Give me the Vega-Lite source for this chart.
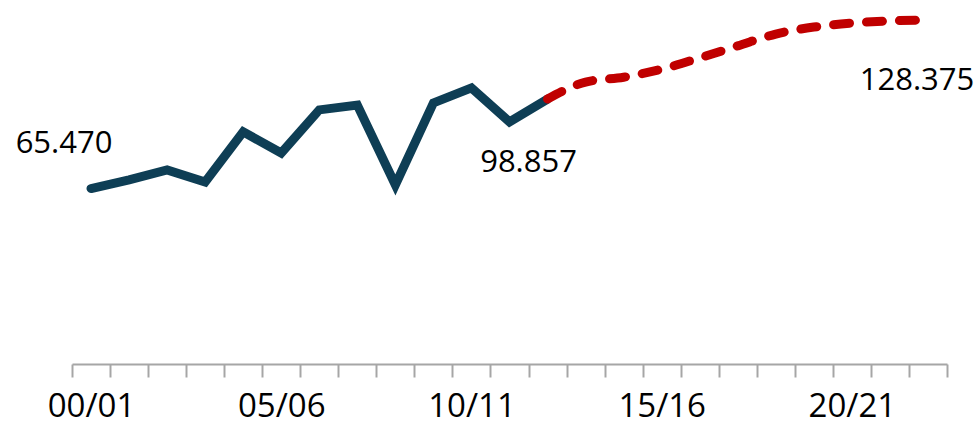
{
  "$schema": "https://vega.github.io/schema/vega-lite/v6.json",
  "width": 875,
  "height": 364,
  "autosize": "none",
  "padding": {"left": 72, "top": 0, "right": 33, "bottom": 69},
  "background": "white",
  "config": {"view": {"stroke": null}},
  "datasets": {
    "series": [
      {"year": "00/01", "value": 65.47, "kind": "actual"},
      {"year": "01/02", "value": 68.7, "kind": "actual"},
      {"year": "02/03", "value": 72.4, "kind": "actual"},
      {"year": "03/04", "value": 67.9, "kind": "actual"},
      {"year": "04/05", "value": 86.6, "kind": "actual"},
      {"year": "05/06", "value": 78.7, "kind": "actual"},
      {"year": "06/07", "value": 94.8, "kind": "actual"},
      {"year": "07/08", "value": 96.6, "kind": "actual"},
      {"year": "08/09", "value": 66.8, "kind": "actual"},
      {"year": "09/10", "value": 97.4, "kind": "actual"},
      {"year": "10/11", "value": 103.0, "kind": "actual"},
      {"year": "11/12", "value": 90.3, "kind": "actual"},
      {"year": "12/13", "value": 98.857, "kind": "actual"},
      {"year": "12/13", "value": 98.857, "kind": "forecast"},
      {"year": "13/14", "value": 105.2, "kind": "forecast"},
      {"year": "14/15", "value": 107.0, "kind": "forecast"},
      {"year": "15/16", "value": 110.0, "kind": "forecast"},
      {"year": "16/17", "value": 114.2, "kind": "forecast"},
      {"year": "17/18", "value": 118.7, "kind": "forecast"},
      {"year": "18/19", "value": 123.1, "kind": "forecast"},
      {"year": "19/20", "value": 125.7, "kind": "forecast"},
      {"year": "20/21", "value": 127.2, "kind": "forecast"},
      {"year": "21/22", "value": 128.0, "kind": "forecast"},
      {"year": "22/23", "value": 128.375, "kind": "forecast"}
    ]
  },
  "data": {"name": "series"},
  "encoding": {
    "x": {
      "field": "year",
      "type": "ordinal",
      "sort": null,
      "scale": {"type": "band", "paddingInner": 0, "paddingOuter": 0},
      "axis": {
        "title": null,
        "labelAngle": 0,
        "tickBand": "extent",
        "domainColor": "#A6A6A6",
        "domainWidth": 2,
        "tickColor": "#A6A6A6",
        "tickWidth": 2,
        "tickSize": 13,
        "labelFont": "Open Sans",
        "labelFontSize": 33,
        "labelColor": "#000000",
        "labelPadding": 13,
        "labelExpr": "indexof(['00/01','05/06','10/11','15/16','20/21'], datum.value) >= 0 ? datum.label : ''"
      }
    },
    "y": {
      "field": "value",
      "type": "quantitative",
      "scale": {"domain": [0, 135.8], "nice": false, "zero": true},
      "axis": null
    }
  },
  "layer": [
    {
      "transform": [{"filter": "datum.kind === 'actual'"}],
      "mark": {"type": "line", "color": "#0E3E55", "strokeWidth": 9, "strokeCap": "round"}
    },
    {
      "transform": [{"filter": "datum.kind === 'forecast'"}],
      "mark": {"type": "line", "color": "#C00000", "strokeWidth": 9, "strokeCap": "round", "strokeDash": [16, 17], "interpolate": "monotone"}
    },
    {
      "transform": [{"filter": "datum.year === '00/01'"}],
      "mark": {"type": "text", "font": "Open Sans", "fontSize": 31, "color": "#000000", "align": "center", "baseline": "alphabetic", "dx": -27, "dy": -36},
      "encoding": {"text": {"field": "value", "type": "quantitative", "format": ".3f"}}
    },
    {
      "transform": [{"filter": "datum.year === '12/13' && datum.kind === 'actual'"}],
      "mark": {"type": "text", "font": "Open Sans", "fontSize": 31, "color": "#000000", "align": "center", "baseline": "alphabetic", "dx": -19, "dy": 73},
      "encoding": {"text": {"field": "value", "type": "quantitative", "format": ".3f"}}
    },
    {
      "transform": [{"filter": "datum.year === '22/23'"}],
      "mark": {"type": "text", "font": "Open Sans", "fontSize": 31, "color": "#000000", "align": "center", "baseline": "alphabetic", "dx": -11, "dy": 70},
      "encoding": {"text": {"field": "value", "type": "quantitative", "format": ".3f"}}
    }
  ]
}
